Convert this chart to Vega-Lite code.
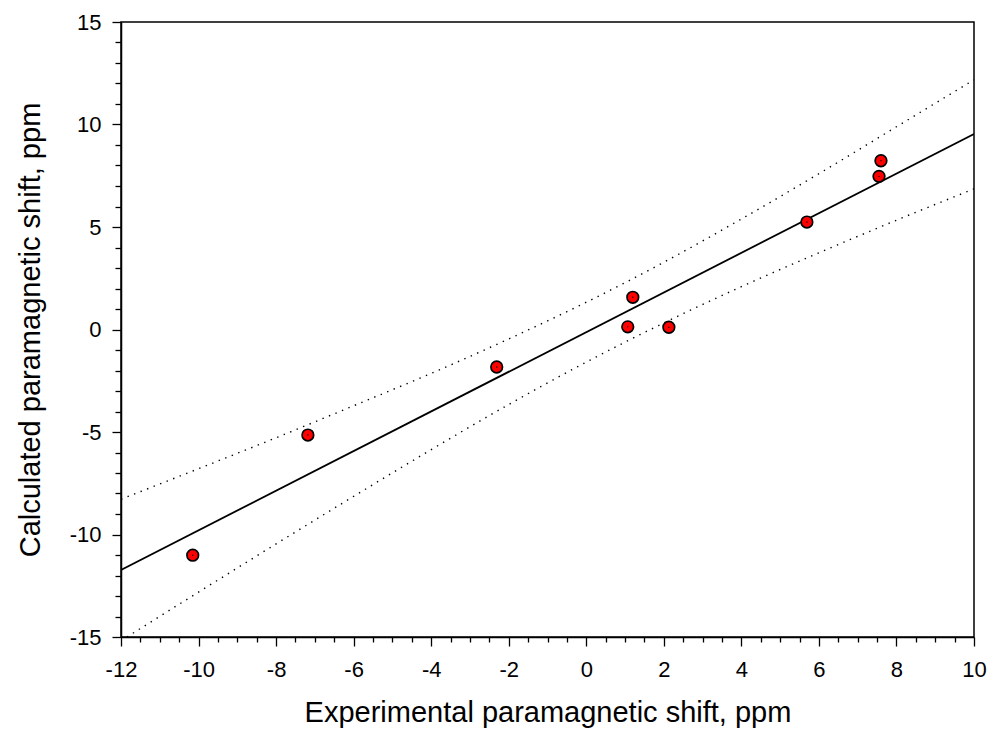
{
  "$schema": "https://vega.github.io/schema/vega-lite/v6.json",
  "width": 853,
  "height": 615,
  "autosize": {"type": "none"},
  "padding": {"left": 121, "top": 22, "right": 15, "bottom": 103},
  "background": "white",
  "config": {
    "font": "Liberation Sans",
    "view": {"stroke": "black", "strokeWidth": 1.5},
    "axis": {
      "grid": false,
      "domainColor": "black",
      "domainWidth": 1.5,
      "tickColor": "black",
      "tickWidth": 1.3,
      "labelFontSize": 22,
      "labelColor": "black",
      "labelFont": "Liberation Sans",
      "titleFont": "Liberation Sans",
      "titleFontSize": 29,
      "titleFontWeight": "normal",
      "titleColor": "black",
      "labelOverlap": false,
      "labelFlush": false,
      "labelBound": false
    }
  },
  "datasets": {
    "points": [
      {"x": -10.15, "y": -11.01},
      {"x": -7.18, "y": -5.15},
      {"x": -2.31, "y": -1.83},
      {"x": 1.07, "y": 0.13},
      {"x": 1.2, "y": 1.57},
      {"x": 2.13, "y": 0.11},
      {"x": 5.69, "y": 5.24},
      {"x": 7.55, "y": 7.47},
      {"x": 7.6, "y": 8.23}
    ],
    "fit": [
      {"x": -12, "y": -11.73},
      {"x": 10, "y": 9.54}
    ],
    "bands": [
      {"band": "upper", "x": -12, "y": -8.28},
      {"band": "upper", "x": -10, "y": -6.79},
      {"band": "upper", "x": -8, "y": -5.28},
      {"band": "upper", "x": -6, "y": -3.72},
      {"band": "upper", "x": -4, "y": -2.14},
      {"band": "upper", "x": -2, "y": -0.46},
      {"band": "upper", "x": 0, "y": 1.33},
      {"band": "upper", "x": 2, "y": 3.28},
      {"band": "upper", "x": 4, "y": 5.39},
      {"band": "upper", "x": 6, "y": 7.6},
      {"band": "upper", "x": 8, "y": 9.89},
      {"band": "upper", "x": 10, "y": 12.18},
      {"band": "lower", "x": -12, "y": -15.18},
      {"band": "lower", "x": -10, "y": -12.81},
      {"band": "lower", "x": -8, "y": -10.46},
      {"band": "lower", "x": -6, "y": -8.14},
      {"band": "lower", "x": -4, "y": -5.86},
      {"band": "lower", "x": -2, "y": -3.66},
      {"band": "lower", "x": 0, "y": -1.59},
      {"band": "lower", "x": 2, "y": 0.32},
      {"band": "lower", "x": 4, "y": 2.09},
      {"band": "lower", "x": 6, "y": 3.74},
      {"band": "lower", "x": 8, "y": 5.33},
      {"band": "lower", "x": 10, "y": 6.86}
    ]
  },
  "encoding": {
    "x": {
      "field": "x",
      "type": "quantitative",
      "scale": {"domain": [-12, 10], "nice": false, "zero": false},
      "axis": {
        "title": "Experimental paramagnetic shift, ppm",
        "values": [-12,-11.5,-11,-10.5,-10,-9.5,-9,-8.5,-8,-7.5,-7,-6.5,-6,-5.5,-5,-4.5,-4,-3.5,-3,-2.5,-2,-1.5,-1,-0.5,0,0.5,1,1.5,2,2.5,3,3.5,4,4.5,5,5.5,6,6.5,7,7.5,8,8.5,9,9.5,10],
        "labelExpr": "datum.value % 2 === 0 ? '' + datum.value : ''",
        "tickSize": {"condition": {"test": "datum.value % 2 === 0", "value": 9}, "value": 5},
        "labelPadding": 13,
        "titlePadding": 18
      }
    },
    "y": {
      "field": "y",
      "type": "quantitative",
      "scale": {"domain": [-15, 15], "nice": false, "zero": false},
      "axis": {
        "title": "Calculated paramagnetic shift, ppm",
        "values": [-15,-14,-13,-12,-11,-10,-9,-8,-7,-6,-5,-4,-3,-2,-1,0,1,2,3,4,5,6,7,8,9,10,11,12,13,14,15],
        "labelExpr": "datum.value % 5 === 0 ? '' + datum.value : ''",
        "tickSize": {"condition": {"test": "datum.value % 5 === 0", "value": 9}, "value": 6},
        "labelPadding": 11,
        "titlePadding": 24
      }
    }
  },
  "layer": [
    {
      "data": {"name": "bands"},
      "mark": {"type": "line", "clip": true, "color": "black", "strokeWidth": 1.4, "strokeDash": [1.4, 5.6], "interpolate": "monotone"},
      "encoding": {"detail": {"field": "band"}}
    },
    {
      "data": {"name": "fit"},
      "mark": {"type": "line", "clip": true, "color": "black", "strokeWidth": 1.8},
      "encoding": {}
    },
    {
      "data": {"name": "points"},
      "mark": {"type": "point", "shape": "circle", "filled": true, "fill": "#ff0000", "stroke": "black", "strokeWidth": 1.7, "size": 135, "opacity": 1}
    },
    {
      "data": {"name": "points"},
      "mark": {"type": "point", "shape": "circle", "filled": true, "fill": "black", "size": 2, "opacity": 1}
    }
  ]
}
